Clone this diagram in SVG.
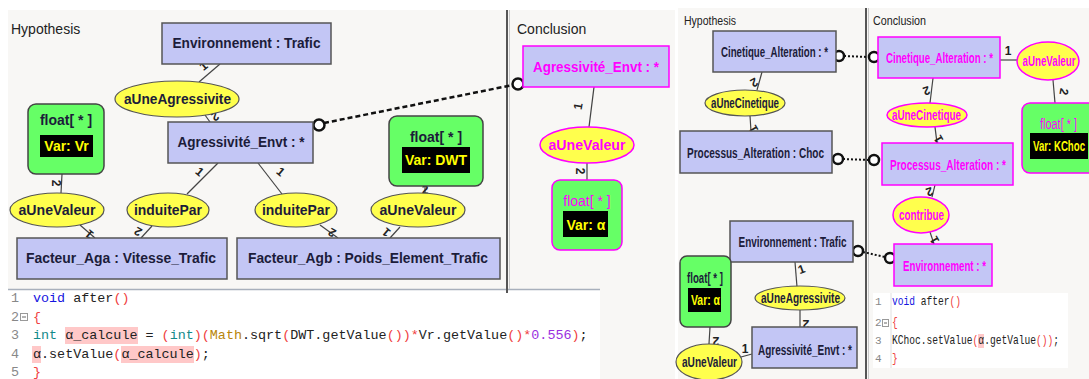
<svg xmlns="http://www.w3.org/2000/svg" width="1089" height="379" viewBox="0 0 1089 379">
<style>
.bg{fill:#f8f7f5}
.cls{fill:#c3c6f5;stroke:#555;stroke-width:1.5}
.clsc{fill:#c3c6f5;stroke:#ff00ff;stroke-width:1.5}
.rel{fill:#ffff4d;stroke:#555;stroke-width:1.2}
.relc{fill:#ffff4d;stroke:#ff00ff;stroke-width:1.5}
.val{fill:#66ff66;stroke:#444;stroke-width:1.5}
.valc{fill:#66ff66;stroke:#ff00ff;stroke-width:1.5}
.blk{fill:#000}
.t{font-family:"Liberation Sans",Arial,sans-serif;font-weight:bold;font-size:14px;fill:#1c1c3a;text-anchor:middle}
.tc{fill:#ff00ff}
.ty{fill:#ffff00}
.tr{font-weight:normal}
.ts{font-size:14px}
.hdr{font-family:"Liberation Sans",Arial,sans-serif;font-size:14px;fill:#222}
.ln{stroke:#444;stroke-width:1.2;fill:none}
.lbl{font-family:"Liberation Sans",Arial,sans-serif;font-weight:bold;font-size:12px;fill:#222;text-anchor:middle}
.dash{stroke:#111;stroke-width:2.5;fill:none;stroke-dasharray:5 3}
.dot{stroke:#111;stroke-width:2;fill:none;stroke-dasharray:2 2}
.circ{fill:#fff;stroke:#111;stroke-width:2.5}
.code{font-family:"Liberation Mono","DejaVu Sans Mono",monospace;font-size:13.4px;fill:#222;white-space:pre}
.num{font-family:"Liberation Mono","DejaVu Sans Mono",monospace;fill:#888}
.kw{fill:#1515e0}
.ty2{fill:#138a8a}
.pr{fill:#f04040}
.ma{fill:#b8860b}
.nu{fill:#9a30e0}
.hl{fill:#ffc8c8}
</style>
<rect x="0" y="0" width="1089" height="379" fill="#fff"/>
<!-- left panel -->
<rect class="bg" x="8" y="10" width="667" height="369"/>
<rect x="8" y="289" width="592" height="90" fill="#fff"/>
<line x1="8" y1="289.5" x2="600" y2="289.5" stroke="#a8b0bc" stroke-width="1.5"/>
<rect x="506" y="10" width="2" height="283" fill="#555"/>
<line x1="509.5" y1="10" x2="509.5" y2="289" stroke="#c8c8c8" stroke-width="1"/>
<text class="hdr" x="11" y="34">Hypothesis</text>
<text class="hdr" x="517" y="34">Conclusion</text>
<!-- right panel -->
<rect class="bg" x="678" y="8" width="411" height="371"/>
<rect x="865" y="8" width="2" height="371" fill="#555"/>
<line x1="868.5" y1="8" x2="868.5" y2="379" stroke="#c8c8c8" stroke-width="1"/>
<text class="hdr" x="684" y="25" textLength="52" lengthAdjust="spacingAndGlyphs" style="font-size:13px">Hypothesis</text>
<text class="hdr" x="873" y="25" textLength="53" lengthAdjust="spacingAndGlyphs" style="font-size:13px">Conclusion</text>
<rect x="873" y="293" width="195" height="75" fill="#fff"/>

<g id="connectors">
<!-- left -->
<line class="ln" x1="220" y1="64" x2="199" y2="82"/>
<line class="ln" x1="205" y1="115" x2="210" y2="122"/>
<line class="ln" x1="62" y1="174" x2="61" y2="193"/>
<line class="ln" x1="80" y1="225" x2="95" y2="238"/>
<line class="ln" x1="187" y1="194" x2="218" y2="163"/>
<line class="ln" x1="152" y1="226" x2="141" y2="238"/>
<line class="ln" x1="282" y1="194" x2="258" y2="163"/>
<line class="ln" x1="320" y1="225" x2="338" y2="238"/>
<line class="ln" x1="425" y1="186" x2="425" y2="193"/>
<line class="ln" x1="400" y1="227" x2="390" y2="238"/>
<line class="ln" x1="594" y1="87" x2="589" y2="127"/>
<line class="ln" x1="587" y1="163" x2="587" y2="180"/>
<line class="dash" x1="324" y1="123" x2="513" y2="85"/>
<circle class="circ" cx="319" cy="125" r="5.5"/>
<circle class="circ" cx="518" cy="84" r="5.5"/>
<text class="lbl" transform="translate(206,69) rotate(-40)">1</text>
<text class="lbl" transform="translate(213,113) rotate(150)">2</text>
<text class="lbl" transform="translate(52,183) rotate(90)">2</text>
<text class="lbl" transform="translate(92,231) rotate(-140)">1</text>
<text class="lbl" transform="translate(197,175) rotate(40)">1</text>
<text class="lbl" transform="translate(140,228) rotate(-150)">2</text>
<text class="lbl" transform="translate(278,175) rotate(40)">1</text>
<text class="lbl" transform="translate(334,229) rotate(-150)">2</text>
<text class="lbl" x="425" y="194">2</text>
<text class="lbl" transform="translate(389,229) rotate(-140)">1</text>
<text class="lbl" transform="translate(582,107) rotate(-80)">1</text>
<text class="lbl" transform="translate(576,171) rotate(90)">2</text>
<!-- right -->
<line class="ln" x1="762" y1="72" x2="757" y2="90"/>
<line class="ln" x1="750" y1="116" x2="751" y2="131"/>
<line class="ln" x1="933" y1="78" x2="930" y2="103"/>
<line class="ln" x1="935" y1="127" x2="937" y2="143"/>
<line class="ln" x1="1000" y1="60" x2="1017" y2="60"/>
<line class="ln" x1="1053" y1="80" x2="1055" y2="103"/>
<line class="ln" x1="935" y1="185" x2="932" y2="197"/>
<line class="ln" x1="930" y1="232" x2="934" y2="244"/>
<line class="ln" x1="795" y1="262" x2="797" y2="287"/>
<line class="ln" x1="800" y1="310" x2="800" y2="327"/>
<line class="ln" x1="710" y1="327" x2="709" y2="344"/>
<line class="ln" x1="741" y1="357" x2="752" y2="354"/>
<line class="dot" x1="844" y1="56" x2="869" y2="57"/>
<line class="dot" x1="843" y1="159" x2="869" y2="160"/>
<line class="dot" x1="863" y1="252" x2="885" y2="257"/>
<circle class="circ" cx="839" cy="56" r="5"/>
<circle class="circ" cx="874" cy="57" r="5"/>
<circle class="circ" cx="838" cy="159" r="5"/>
<circle class="circ" cx="874" cy="160" r="5"/>
<circle class="circ" cx="858" cy="251" r="5"/>
<circle class="circ" cx="890" cy="258" r="5"/>
<text class="lbl" transform="translate(752,79) rotate(150)">2</text>
<text class="lbl" transform="translate(757,127) rotate(-120)">1</text>
<text class="lbl" transform="translate(925,87) rotate(160)">2</text>
<text class="lbl" transform="translate(942,137) rotate(-120)">1</text>
<text class="lbl" x="1008" y="55">1</text>
<text class="lbl" transform="translate(1060,91) rotate(100)">2</text>
<text class="lbl" transform="translate(928,188) rotate(160)">2</text>
<text class="lbl" transform="translate(938,238) rotate(-120)">1</text>
<text class="lbl" transform="translate(803,273) rotate(-20)">1</text>
<text class="lbl" transform="translate(806,320) rotate(180)">2</text>
<text class="lbl" transform="translate(716,337) rotate(180)">2</text>
<text class="lbl" x="745" y="353">1</text>
</g>

<!-- left nodes -->
<g id="env-trafic"><rect class="cls" x="162" y="23" width="169" height="41"/><text class="t" x="246.5" y="48" textLength="148" lengthAdjust="spacingAndGlyphs">Environnement : Trafic</text></g>
<g id="rel-aUneAgressivite"><ellipse class="rel" cx="177" cy="99" rx="62" ry="18"/><text class="t" x="177.5" y="104" textLength="107" lengthAdjust="spacingAndGlyphs">aUneAgressivite</text></g>
<g id="agr-envt"><rect class="cls" x="168" y="122" width="145" height="41"/><text class="t" x="241" y="147" textLength="127" lengthAdjust="spacingAndGlyphs">Agressivité_Envt : *</text></g>
<g id="float-vr"><rect class="val" x="28" y="104" width="76" height="70" rx="8"/><text class="t" x="66" y="125">float[ * ]</text><rect class="blk" x="40" y="135" width="53" height="22"/><text class="t ty" x="66.5" y="151">Var: Vr</text></g>
<g id="rel-aUneValeur-1"><ellipse class="rel" cx="57" cy="210" rx="47" ry="17"/><text class="t" x="57" y="215" textLength="77" lengthAdjust="spacingAndGlyphs">aUneValeur</text></g>
<g id="rel-induitePar-1"><ellipse class="rel" cx="168" cy="210" rx="41" ry="17"/><text class="t" x="168" y="215" textLength="68" lengthAdjust="spacingAndGlyphs">induitePar</text></g>
<g id="rel-induitePar-2"><ellipse class="rel" cx="296" cy="210" rx="41" ry="17"/><text class="t" x="296" y="215" textLength="68" lengthAdjust="spacingAndGlyphs">induitePar</text></g>
<g id="rel-aUneValeur-2"><ellipse class="rel" cx="418" cy="210" rx="47" ry="17"/><text class="t" x="418" y="215" textLength="77" lengthAdjust="spacingAndGlyphs">aUneValeur</text></g>
<g id="facteur-aga"><rect class="cls" x="17" y="238" width="210" height="41"/><text class="t" x="121" y="263" textLength="190" lengthAdjust="spacingAndGlyphs">Facteur_Aga : Vitesse_Trafic</text></g>
<g id="facteur-agb"><rect class="cls" x="237" y="238" width="263" height="41"/><text class="t" x="368" y="263" textLength="240" lengthAdjust="spacingAndGlyphs">Facteur_Agb : Poids_Element_Trafic</text></g>
<g id="float-dwt"><rect class="val" x="389" y="116" width="94" height="70" rx="8"/><text class="t" x="436" y="142">float[ * ]</text><rect class="blk" x="402" y="147" width="68" height="26"/><text class="t ty" x="436" y="165">Var: DWT</text></g>
<g id="concl-agr"><rect class="clsc" x="523" y="46" width="146" height="41"/><text class="t tc" x="596" y="72" textLength="126" lengthAdjust="spacingAndGlyphs">Agressivité_Envt : *</text></g>
<g id="concl-aUneValeur"><ellipse class="relc" cx="587" cy="145" rx="47" ry="18"/><text class="t tc" x="587" y="150" textLength="77" lengthAdjust="spacingAndGlyphs">aUneValeur</text></g>
<g id="concl-float-alpha"><rect class="valc" x="552" y="180" width="70" height="70" rx="8"/><text class="t tc tr" x="587" y="206">float[ * ]</text><rect class="blk" x="563" y="211" width="45" height="26"/><text class="t ty" x="586" y="230">Var: α</text></g>

<!-- right nodes -->
<g id="r-cin-h"><rect class="cls" x="713" y="31" width="123" height="41"/><text class="t ts" x="774.5" y="57" textLength="107" lengthAdjust="spacingAndGlyphs">Cinetique_Alteration : *</text></g>
<g id="r-aUneCinetique-h"><ellipse class="rel" cx="745" cy="103" rx="40" ry="13"/><text class="t ts" x="745" y="108" textLength="68" lengthAdjust="spacingAndGlyphs">aUneCinetique</text></g>
<g id="r-proc-h"><rect class="cls" x="680" y="131" width="152" height="42"/><text class="t ts" x="755.5" y="158" textLength="137" lengthAdjust="spacingAndGlyphs">Processus_Alteration : Choc</text></g>
<g id="r-cin-c"><rect class="clsc" x="878" y="37" width="122" height="41"/><text class="t ts tc" x="939.5" y="63" textLength="107" lengthAdjust="spacingAndGlyphs">Cinetique_Alteration : *</text></g>
<g id="r-aUneValeur-c"><ellipse class="relc" cx="1048" cy="61" rx="31" ry="19"/><text class="t ts tc" x="1049" y="66" textLength="53" lengthAdjust="spacingAndGlyphs">aUneValeur</text></g>
<g id="r-float-kchoc"><rect class="valc" x="1022" y="103" width="80" height="70" rx="8"/><text class="t ts tc tr" x="1058.5" y="129" textLength="37" lengthAdjust="spacingAndGlyphs">float[ * ]</text><rect class="blk" x="1030" y="133" width="58" height="26"/><text class="t ts ty" x="1059" y="151" textLength="52" lengthAdjust="spacingAndGlyphs">Var: KChoc</text></g>
<g id="r-aUneCinetique-c"><ellipse class="relc" cx="927" cy="115" rx="40" ry="12"/><text class="t ts tc" x="926.5" y="120" textLength="69" lengthAdjust="spacingAndGlyphs">aUneCinetique</text></g>
<g id="r-proc-c"><rect class="clsc" x="882" y="143" width="131" height="42"/><text class="t ts tc" x="948" y="170" textLength="116" lengthAdjust="spacingAndGlyphs">Processus_Alteration : *</text></g>
<g id="r-contribue"><ellipse class="relc" cx="921" cy="215" rx="28" ry="18"/><text class="t ts tc" x="921.5" y="220" textLength="45" lengthAdjust="spacingAndGlyphs">contribue</text></g>
<g id="r-env-c"><rect class="clsc" x="894" y="244" width="98" height="42"/><text class="t ts tc" x="944.5" y="271" textLength="83" lengthAdjust="spacingAndGlyphs">Environnement : *</text></g>
<g id="r-env-h"><rect class="cls" x="730" y="221" width="123" height="41"/><text class="t ts" x="792.5" y="247" textLength="108" lengthAdjust="spacingAndGlyphs">Environnement : Trafic</text></g>
<g id="r-float-alpha-h"><rect class="val" x="680" y="256" width="51" height="71" rx="7"/><text class="t ts" x="705" y="283" textLength="36" lengthAdjust="spacingAndGlyphs">float[ * ]</text><rect class="blk" x="688" y="288" width="33" height="24"/><text class="t ts ty" x="705.5" y="305" textLength="29" lengthAdjust="spacingAndGlyphs">Var: α</text></g>
<g id="r-aUneAgressivite-h"><ellipse class="rel" cx="800" cy="298" rx="45" ry="12"/><text class="t ts" x="800.5" y="303" textLength="79" lengthAdjust="spacingAndGlyphs">aUneAgressivite</text></g>
<g id="r-agr-h"><rect class="cls" x="752" y="327" width="105" height="41"/><text class="t ts" x="805" y="355" textLength="94" lengthAdjust="spacingAndGlyphs">Agressivité_Envt : *</text></g>
<g id="r-aUneValeur-h"><ellipse class="rel" cx="709" cy="362" rx="33" ry="18"/><text class="t ts" x="709.5" y="367" textLength="55" lengthAdjust="spacingAndGlyphs">aUneValeur</text></g>

<!-- left code -->
<g id="code-left">
<rect class="hl" x="65" y="327" width="73" height="17"/>
<rect class="hl" x="32" y="346" width="9" height="17"/>
<rect class="hl" x="121" y="346" width="73" height="17"/>
<rect x="20.5" y="313.5" width="7" height="7" fill="#fff" stroke="#999" stroke-width="1"/>
<line x1="22" y1="317" x2="26" y2="317" stroke="#666" stroke-width="1"/>
<text class="num" x="11" y="302" font-size="13.4">1</text>
<text class="num" x="11" y="321" font-size="13.4">2</text>
<text class="num" x="11" y="339" font-size="13.4">3</text>
<text class="num" x="11" y="358" font-size="13.4">4</text>
<text class="num" x="11" y="376" font-size="13.4">5</text>
<text class="code" x="33" y="302"><tspan class="kw">void</tspan> after<tspan class="pr">()</tspan></text>
<text class="code" x="33" y="321"><tspan class="pr">{</tspan></text>
<text class="code" x="33" y="339"><tspan class="ty2">int</tspan> α_calcule = <tspan class="pr">(</tspan><tspan class="ty2">int</tspan><tspan class="pr">)(</tspan><tspan class="ma">Math</tspan>.sqrt<tspan class="pr">(</tspan>DWT.getValue<tspan class="pr">())*</tspan>Vr.getValue<tspan class="pr">()*</tspan><tspan class="nu">0.556</tspan><tspan class="pr">)</tspan>;</text>
<text class="code" x="33" y="358">α.setValue<tspan class="pr">(</tspan>α_calcule<tspan class="pr">)</tspan>;</text>
<text class="code" x="33" y="376"><tspan class="pr">}</tspan></text>
</g>

<!-- right code -->
<g id="code-right">
<line x1="891" y1="293" x2="891" y2="368" stroke="#e0e0e0" stroke-width="1"/>
<rect class="hl" x="978" y="334" width="6" height="14"/>
<rect x="882.5" y="319.5" width="6" height="7" fill="#fff" stroke="#999" stroke-width="1"/>
<line x1="884" y1="323" x2="887" y2="323" stroke="#666" stroke-width="1"/>
<text class="num" x="875" y="305" font-size="11">1</text>
<text class="num" x="875" y="326" font-size="11">2</text>
<text class="num" x="875" y="344" font-size="11">3</text>
<text class="num" x="875" y="362" font-size="11">4</text>
<g transform="translate(892,0) scale(0.8,1)">
<text class="code" x="0" y="305" style="font-size:12px"><tspan class="kw">void</tspan> after<tspan class="pr">()</tspan></text>
<text class="code" x="0" y="326" style="font-size:12px"><tspan class="pr">{</tspan></text>
<text class="code" x="0" y="344" style="font-size:12px">KChoc.setValue<tspan class="pr">(</tspan>α.getValue<tspan class="pr">())</tspan>;</text>
<text class="code" x="0" y="362" style="font-size:12px"><tspan class="pr">}</tspan></text>
</g>
</g>
</svg>
